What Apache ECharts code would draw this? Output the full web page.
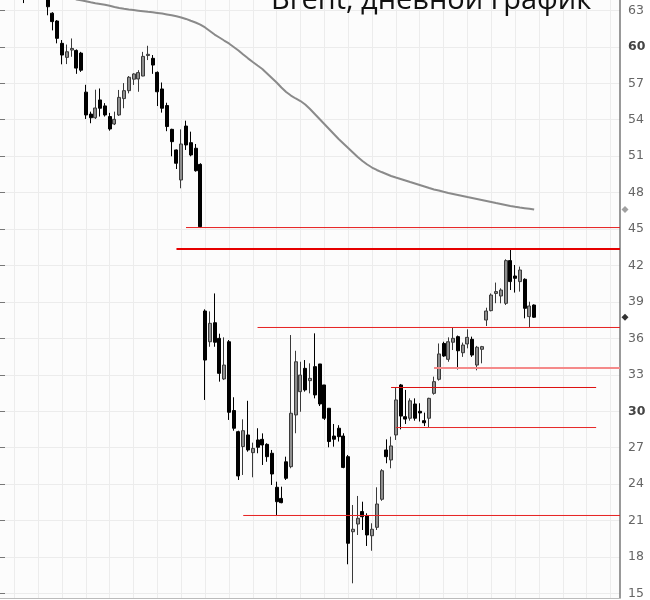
<!DOCTYPE html>
<html><head><meta charset="utf-8">
<script src="https://cdn.jsdelivr.net/npm/echarts@6/dist/echarts.min.js"></script>
<style>html,body{margin:0;padding:0;background:#fff}#c{width:650px;height:600px}</style>
</head><body><div id="c"></div>
<script>
// ---- data (daily Brent candles) ----
const LEAD = 3;          // empty category slots before the first candle
const SLOTS_AFTER = 128; // category slots from first candle to right edge
const opens  = [65.2,65.0,64.6,64.4,64.2,64.6,64.9,64.4,62.77,62.13,60.3,59.15,59.75,59.72,59.5,
  56.3,54.5,54.2,55.66,55.17,54.3,53.69,54.43,55.77,56.42,57.36,57.38,57.62,59.3,59.07,
  57.92,56.56,55.2,53.25,51.56,49.1,53.52,52.16,51.7,50.38,38.36,35.84,37.4,36.12,32.79,
  35.84,30.2,28.47,27.25,28.2,26.75,27.79,27.84,27.43,26.7,23.91,23.0,26.0,25.6,29.84,
  31.75,33.66,32.65,33.8,34.02,32.3,30.39,28.11,28.75,28.11,26.42,20.27,20.9,21.92,21.56,
  19.94,20.63,22.93,26.97,26.15,28.2,32.3,29.7,29.57,30.74,30.14,29.37,29.57,31.61,32.76,
  35.7,34.4,35.8,36.26,34.94,35.66,36.04,33.93,35.22,37.62,38.39,39.8,39.59,38.99,42.49,
  41.23,40.77,40.96,37.9,38.85];
const closes = [65.0,64.4,64.5,64.1,64.6,64.9,64.6,63.3,62.08,60.71,59.34,59.61,59.88,58.27,58.1,
  54.43,54.2,55.0,54.98,54.43,53.28,54.07,55.87,56.42,57.52,57.79,57.9,59.23,59.4,58.52,
  56.33,54.98,53.48,52.24,50.47,52.05,51.97,51.15,49.86,45.27,34.34,37.35,35.8,33.25,33.93,
  30.06,28.75,24.84,28.55,26.97,27.1,27.19,27.38,26.42,25.0,22.73,22.65,24.65,29.98,34.2,
  33.11,31.89,32.84,31.48,30.74,29.57,27.66,27.85,28.06,25.54,19.32,20.47,21.37,21.5,20.0,
  20.47,22.54,25.27,26.42,27.3,31.07,29.75,29.5,31.0,29.57,30.0,29.2,31.2,32.57,34.84,
  34.67,35.84,36.12,35.1,35.57,36.2,34.75,35.39,35.44,38.36,39.67,39.95,40.08,42.49,40.77,
  41.04,41.72,38.58,38.77,37.85];
const lows   = [64.7,64.2,63.6,63.95,64.0,64.3,64.2,62.6,61.36,60.3,58.58,58.6,59.2,57.8,57.96,
  54.1,53.75,54.1,54.3,54.3,53.14,53.6,54.35,54.98,56.2,56.89,56.33,57.6,58.93,57.8,
  55.16,54.62,53.1,51.04,50.0,48.42,51.56,51.04,49.78,45.16,31.07,35.43,35.43,32.57,32.7,
  29.43,28.55,24.51,24.92,26.83,24.73,26.7,25.74,26.0,24.1,21.64,22.6,24.51,25.47,28.34,
  30.1,31.75,31.61,31.2,30.57,29.43,27.19,27.24,27.66,25.47,17.6,16.04,20.0,20.41,19.1,
  18.71,20.41,22.8,25.88,25.47,27.79,28.66,29.1,29.37,29.37,29.3,28.93,28.85,31.5,32.65,
  34.6,34.2,35.16,33.57,34.6,35.3,34.6,33.5,34.07,37.13,38.33,39.0,38.99,38.85,40.08,
  39.87,39.95,37.76,37.0,37.8];
const highs  = [65.6,65.3,64.9,64.7,64.8,65.1,65.1,64.6,62.85,62.2,60.57,60.2,60.7,59.8,59.6,
  56.9,54.7,56.5,56.6,55.4,54.6,54.7,56.48,57.04,57.62,57.85,58.1,59.6,60.1,59.34,
  58.0,57.09,55.43,53.3,51.6,53.25,53.96,53.06,52.05,50.47,38.5,38.33,39.8,36.5,36.2,
  35.98,31.29,28.55,29.48,31.0,27.57,28.75,28.33,27.52,26.97,24.37,23.96,26.42,36.39,35.1,
  34.2,34.34,34.07,36.53,34.02,32.3,30.39,29.1,29.0,28.34,26.56,22.46,23.2,22.73,21.78,
  20.96,23.91,25.4,27.84,28.06,32.1,32.38,31.89,31.2,31.2,30.8,30.03,31.25,32.98,35.7,
  35.84,36.2,37.0,36.35,35.77,36.86,36.26,35.5,35.5,38.63,39.8,40.69,40.22,42.6,43.42,
  42.13,42.0,41.04,39.12,38.9];
const maStart = 12;      // candle index where the moving average starts
const maValues = [64.05,63.9,63.83,63.75,63.66,63.58,63.52,63.46,63.38,63.28,63.2,63.13,63.07,63.03,62.98,
  62.93,62.88,62.84,62.79,62.74,62.67,62.6,62.52,62.42,62.3,62.15,62.01,61.84,61.6,61.31,
  61.02,60.78,60.53,60.29,60.0,59.71,59.38,59.07,58.77,58.48,58.2,57.83,57.46,57.09,56.68,
  56.31,56.02,55.78,55.57,55.29,54.92,54.51,54.1,53.69,53.28,52.87,52.46,52.09,51.72,51.35,
  50.98,50.66,50.37,50.12,49.92,49.75,49.59,49.43,49.3,49.18,49.06,48.93,48.81,48.69,48.57,
  48.44,48.32,48.24,48.13,48.03,47.95,47.87,47.79,47.7,47.62,47.54,47.46,47.38,47.3,47.21,
  47.13,47.05,46.97,46.9,46.84,46.79,46.74,46.68];
const yTicks = [15,18,21,24,27,30,33,36,39,42,45,48,51,54,57,60,63];
const levelValues = [45.2, 43.44, 37.01, 33.69, 32.09, 28.81, 21.6];
const levelFrom   = [36, 34, 51, 88, 79, 80, 48];
const levelTo     = [127, 127, 127, 127, 122, 122, 127];
const titleText = 'Brent, дневной график';

// ---- styles ----
const levelStyles = [
  {color:'#e62020', width:1}, {color:'#e60000', width:2}, {color:'#e62020', width:1},
  {color:'#f58a8a', width:2}, {color:'#dd1010', width:1}, {color:'#e62828', width:1},
  {color:'#e62020', width:1}
];

const N = LEAD + SLOTS_AFTER;
const categories = Array.from({length: N}, (_, i) => 'd' + i);
const candleData = categories.map((c, k) => {
  const j = k - LEAD;
  if (j < 0 || j >= opens.length) return '-';
  return [opens[j], closes[j], lows[j], highs[j]];
});
const maData = categories.map((c, k) => {
  const j = k - LEAD - maStart;
  return (j >= 0 && j < maValues.length) ? maValues[j] : '-';
});
const levelSeries = levelValues.map((v, i) => ({
  type: 'line', xAxisIndex: 0, yAxisIndex: 0, z: 4, silent: true,
  symbol: 'none', showSymbol: false,
  lineStyle: Object.assign({type: 'solid', opacity: 1}, levelStyles[i]),
  itemStyle: {color: levelStyles[i].color},
  data: [[categories[LEAD + levelFrom[i]], v], [categories[LEAD + levelTo[i]], v]]
}));
const lastClose = closes[closes.length - 1];
const lastMA = maValues[maValues.length - 1];

const yMin = 14.836, yMax = 63.852;

const chart = echarts.init(document.getElementById('c'));
chart.setOption({
  animation: false,
  backgroundColor: '#ffffff',
  graphic: [{
    type: 'text', x: 271, y: 1, z: 100,
    style: {text: titleText, fill: '#111', fontSize: 29, fontFamily: 'Open Sans', verticalAlign: 'middle'}
  }],
  grid: [
    {left: 0, right: 30, top: 0, bottom: 2, show: true, backgroundColor: '#fcfcfc', borderWidth: 0},
    {left: 0, right: 30, top: 10.4, bottom: 4, show: false}
  ],
  xAxis: [
    {type: 'category', gridIndex: 0, data: categories, boundaryGap: false,
     axisLine: {show: true, lineStyle: {color: '#bbbbbb', width: 1}},
     axisTick: {show: false}, axisLabel: {show: false},
     splitLine: {show: true, interval: (i) => (i - LEAD) % 5 === 0, lineStyle: {color: '#ececec', width: 1}}},
    {type: 'value', gridIndex: 1, show: false, min: 0, max: 1}
  ],
  yAxis: [
    {type: 'value', gridIndex: 0, position: 'right', min: yMin, max: yMax,
     axisLine: {show: true, lineStyle: {color: '#777', width: 1.5}},
     axisTick: {show: false}, axisLabel: {show: false}, splitLine: {show: false}},
    {type: 'value', gridIndex: 1, position: 'right', min: yTicks[0], max: yTicks[yTicks.length - 1], interval: 3,
     axisLine: {show: false},
     axisTick: {show: true, length: 5, lineStyle: {color: '#777'}},
     axisLabel: {show: true, margin: 8, color: '#666', fontSize: 12.5, fontFamily: 'DejaVu Sans',
       formatter: (v) => (v % 30 === 0 ? '{b|' + v + '}' : String(v)),
       rich: {b: {fontWeight: 'bold', color: '#444', fontSize: 12.5, fontFamily: 'DejaVu Sans'}}},
     splitLine: {show: true, lineStyle: {color: '#ececec', width: 1}}}
  ],
  series: [
    {type: 'candlestick', xAxisIndex: 0, yAxisIndex: 0, data: candleData, barWidth: 3.5, z: 3,
     itemStyle: {color: '#8e8e8e', color0: '#000000', borderColor: '#3a3a3a', borderColor0: '#000000', borderWidth: 1}},
    {type: 'line', xAxisIndex: 0, yAxisIndex: 0, data: maData, showSymbol: false, symbol: 'none',
     lineStyle: {color: '#8a8a8a', width: 2}, z: 3}
  ].concat(levelSeries).concat([
    {type: 'scatter', xAxisIndex: 0, yAxisIndex: 0, clip: false, symbol: 'diamond', symbolSize: 7, symbolOffset: [5, 0], z: 5,
     data: [
       {value: [categories[N - 1], lastMA], itemStyle: {color: '#888'}},
       {value: [categories[N - 1], lastClose], itemStyle: {color: '#000'}}
     ]}
  ])
});
</script></body></html>
